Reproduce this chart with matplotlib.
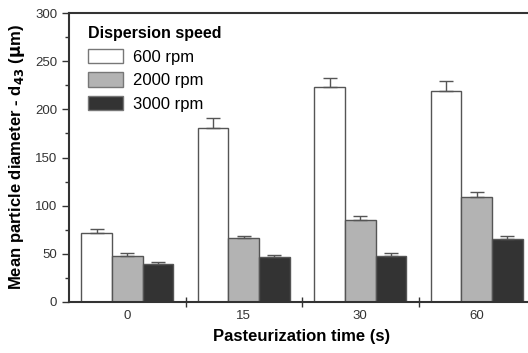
import matplotlib.pyplot as plt
import numpy as np

plt.rcParams['font.family'] = ['Liberation Sans', 'DejaVu Sans']

times = ['0', '15', '30', '60']
speeds = ['600 rpm', '2000 rpm', '3000 rpm']
d43 = [
    [72, 181, 223, 219],
    [48, 66, 85, 109],
    [39, 47, 48, 65],
]
err = [
    [4, 10, 10, 10],
    [3, 3, 4, 5],
    [3, 2, 3, 3],
]
colors = ['white', '#b3b3b3', '#333333']

fig = plt.figure(figsize=(5.28, 3.53), dpi=100)
ax = fig.add_axes([69/528, 1 - 302/353, (535-69)/528, 289/353])

x = np.arange(len(times))
w = 0.263
for i in range(3):
    ax.bar(x + (i - 1) * w, d43[i], w, color=colors[i], edgecolor='#555555',
           linewidth=1.0, label=speeds[i],
           yerr=[np.zeros(4), err[i]], error_kw=dict(ecolor='#555555', elinewidth=1.0, capsize=5, capthick=1.0))

ax.set_xlim(-0.5, 3.5)
ax.set_ylim(0, 300)
ax.set_xticks(x)
ax.set_xticklabels(times)
ax.set_xticks(x[:-1] + 0.5, minor=True)
ax.set_yticks(np.arange(0, 301, 50))
ax.set_yticks(np.arange(25, 300, 50), minor=True)
ax.tick_params(axis='x', which='major', length=0, labelsize=9.5, pad=6, labelcolor='#333333')
ax.tick_params(axis='x', which='minor', direction='inout', length=7, width=1, color='#333333')
ax.tick_params(axis='y', which='major', direction='out', length=5, width=1, labelsize=9.5, labelcolor='#333333', color='#333333')
ax.tick_params(axis='y', which='minor', direction='out', length=3, width=1, color='#333333')
for s in ax.spines.values():
    s.set_linewidth(1.5)
    s.set_color('#333333')

ax.set_xlabel('Pasteurization time (s)', fontsize=12, fontweight='bold', labelpad=5)
ax.set_ylabel('Mean particle diameter - d$_{\\mathbf{43}}$ ($\\mathbf{\\mu}$m)', fontsize=12, fontweight='bold', labelpad=6)

leg = ax.legend(title='Dispersion speed', loc='upper left', bbox_to_anchor=(0.012, 1.0),
                frameon=False, fontsize=12,
                title_fontproperties={'weight': 'bold', 'size': 11.5},
                handlelength=2.1, handleheight=0.95, borderaxespad=0.4, labelspacing=0.45,
                handletextpad=0.6)
leg._legend_box.align = 'left'
for h in leg.legend_handles:
    h.set_edgecolor('#777777')

fig.savefig('out.png', dpi=100)
